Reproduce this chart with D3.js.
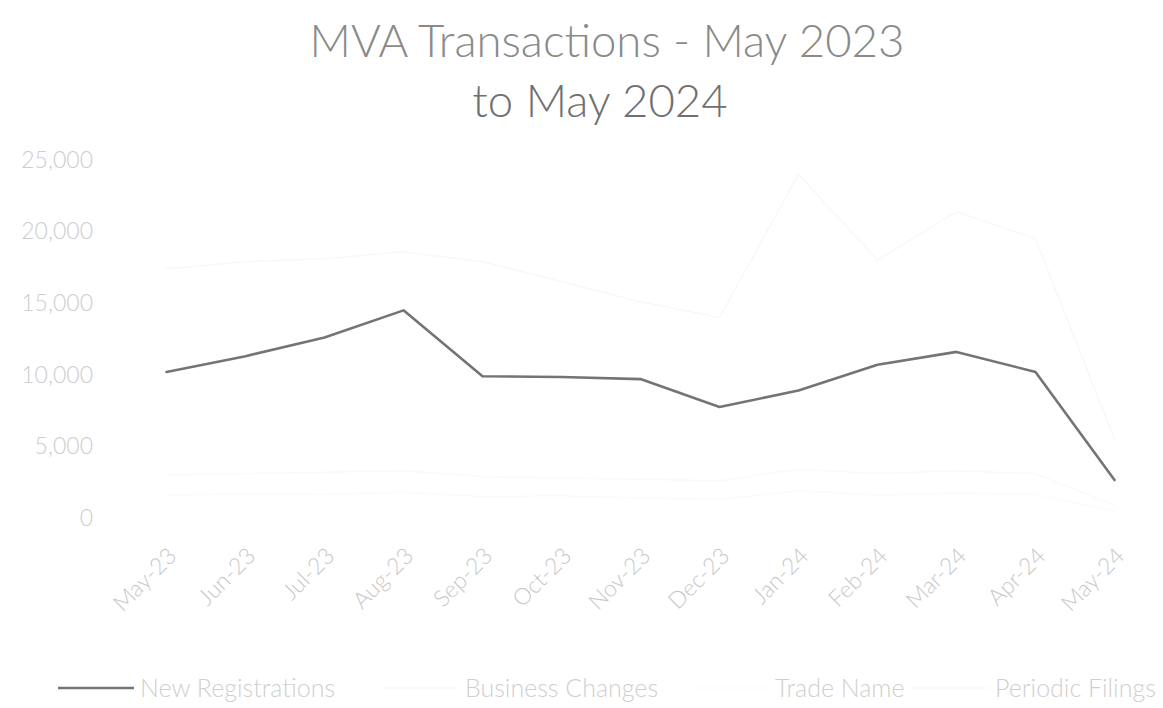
<!DOCTYPE html>
<html>
<head>
<meta charset="utf-8">
<script src="https://cdn.jsdelivr.net/npm/d3@7"></script>
<style>
  html, body { margin: 0; padding: 0; background: #ffffff; }
  svg { display: block; }
  text { font-family: Lato, "Open Sans", "DejaVu Sans", sans-serif; }
</style>
</head>
<body>
<svg id="chart" width="1163" height="708"></svg>
<script>
// ---- data ----
const categories = ["May-23","Jun-23","Jul-23","Aug-23","Sep-23","Oct-23","Nov-23",
                    "Dec-23","Jan-24","Feb-24","Mar-24","Apr-24","May-24"];
const newRegistrations = [10200, 11300, 12600, 14500, 9900, 9850, 9700,
                          7750, 8900, 10700, 11600, 10200, 2650];
const businessChanges  = [17400, 17900, 18100, 18600, 17900, 16500, 15100,
                          14000, 24000, 18000, 21400, 19500, 5500];
const tradeName        = [1600, 1700, 1650, 1800, 1500, 1550, 1400,
                          1300, 1900, 1600, 1750, 1650, 500];
const periodicFilings  = [3000, 3100, 3200, 3300, 2900, 2800, 2700,
                          2600, 3400, 3100, 3300, 3100, 900];
const yTicks = [0, 5000, 10000, 15000, 20000, 25000];
const titleLines = ["MVA Transactions - May 2023", "to May 2024"];
const seriesNames = ["New Registrations", "Business Changes", "Trade Name", "Periodic Filings"];

const series = [
  { name: seriesNames[0], values: newRegistrations, color: "#747474", width: 2.6 },
  { name: seriesNames[1], values: businessChanges,  color: "#f8f8f8", width: 1.5 },
  { name: seriesNames[2], values: tradeName,        color: "#fbfbfb", width: 1.5 },
  { name: seriesNames[3], values: periodicFilings,  color: "#fafafa", width: 1.5 }
];

// ---- layout ----
const svg = d3.select("#chart");
const x = d3.scaleBand().domain(categories).range([127, 1154]).paddingInner(0).paddingOuter(0);
const y = d3.scaleLinear().domain([0, 25000]).range([518, 160]);
const cx = d => x(d) + x.bandwidth() / 2;

// title
const titleG = svg.append("g");
const t1 = titleG.append("text").attr("x", 607).attr("y", 57)
  .attr("text-anchor", "middle").attr("fill", "#8a8a8a").attr("font-size", 44)
  .attr("font-weight", 300)
  .text(titleLines[0]);
const w1 = t1.node().getComputedTextLength();
const fs = 44 * 595 / w1;
t1.attr("font-size", fs);
titleG.append("text").attr("x", 600).attr("y", 117)
  .attr("text-anchor", "middle").attr("fill", "#707070").attr("font-size", fs)
  .attr("font-weight", 300)
  .text(titleLines[1]);

// y axis (labels only)
const yAxis = d3.axisLeft(y).tickValues(yTicks).tickSize(0).tickPadding(0)
  .tickFormat(d3.format(","));
const yg = svg.append("g").attr("transform", "translate(93,0)").call(yAxis);
yg.select(".domain").remove();
yg.selectAll("text").attr("fill", "#cdcdcd").attr("font-size", 23)
  .attr("font-weight", 300)
  .attr("font-family", "Lato, sans-serif");

// x axis (labels only)
const xAxis = d3.axisBottom(x).tickSize(0).tickPadding(0);
const xg = svg.append("g").attr("transform", "translate(0,546)").call(xAxis);
xg.select(".domain").remove();
xg.selectAll("text")
  .attr("fill", "#c8c8c8").attr("font-size", 23).attr("font-family", "Lato, sans-serif")
  .attr("font-weight", 300)
  .attr("text-anchor", "end")
  .attr("dy", "0.7em").attr("y", 0).attr("x", 0)
  .attr("transform", "rotate(-45)");

// lines
const line = d3.line()
  .x((v, i) => cx(categories[i]))
  .y(v => y(v));
const drawOrder = [1, 2, 3, 0];
drawOrder.forEach(k => {
  const s = series[k];
  svg.append("path").datum(s.values)
    .attr("fill", "none").attr("stroke", s.color).attr("stroke-width", s.width)
    .attr("stroke-linejoin", "round").attr("stroke-linecap", "round")
    .attr("d", line);
});

// legend
const legendX = [140, 465, 775, 995];
const lg = svg.append("g").attr("transform", "translate(0,688)");
series.forEach((s, i) => {
  const g = lg.append("g").attr("transform", `translate(${legendX[i]},0)`);
  g.append("line").attr("x1", -82).attr("x2", -6).attr("y1", 0).attr("y2", 0)
    .attr("stroke", s.color).attr("stroke-width", s.width);
  g.append("text").attr("x", 0).attr("y", 0).attr("dy", "0.35em")
    .attr("fill", "#cfcfcf").attr("font-size", 25).attr("font-weight", 300)
    .text(s.name);
});
</script>
</body>
</html>
